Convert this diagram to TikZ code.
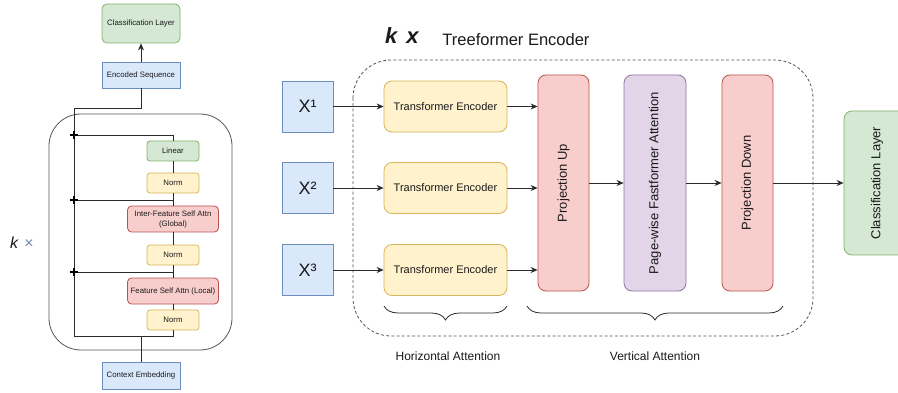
\documentclass[tikz,border=0pt]{standalone}
\usepackage{fontspec}
\setmainfont{Liberation Sans}
\usetikzlibrary{arrows.meta,decorations.pathreplacing}

\definecolor{txt}{HTML}{1A1A1A}
\definecolor{ln}{HTML}{2B2B2B}
\definecolor{bluef}{HTML}{DAE8FC}\definecolor{blued}{HTML}{6C8EBF}
\definecolor{greenf}{HTML}{D5E8D4}\definecolor{greend}{HTML}{82B366}
\definecolor{yellowf}{HTML}{FFF2CC}\definecolor{yellowd}{HTML}{D6B656}
\definecolor{redf}{HTML}{F8CECC}\definecolor{redd}{HTML}{B85450}
\definecolor{purplef}{HTML}{E1D5E7}\definecolor{purpled}{HTML}{9673A6}

\newcommand{\fs}[1]{\fontsize{#1}{#1}\selectfont}

\tikzset{
  base/.style={draw, line width=0.8pt, inner sep=0pt, align=center, text=txt},
  bluebox/.style={base, fill=bluef, draw=blued},
  greenbox/.style={base, fill=greenf, draw=greend},
  yellowbox/.style={base, fill=yellowf, draw=yellowd},
  redbox/.style={base, fill=redf, draw=redd},
  purplebox/.style={base, fill=purplef, draw=purpled},
  small/.style={font=\fs{7.8}, execute at begin node=\setlength{\baselineskip}{10pt}},
  wire/.style={draw=ln, line width=0.8pt},
  arr/.style={wire, -{Stealth[length=7pt,width=6pt]}},
  plusmark/.style={draw=black, line width=1.2pt},
  ttl/.style={text=txt, inner sep=0pt},
  brc/.style={draw=ln, line width=0.8pt, decorate,
    decoration={brace, mirror, amplitude=14pt, aspect=0.5}},
}

\begin{document}
\begin{tikzpicture}[x=1pt, y=-1pt]
\clip (0,0) rectangle (898,393);
\fill[white] (0,0) rectangle (898,393);

% ---------------- left: single encoder block ----------------
\draw[draw=ln!80, line width=0.8pt, rounded corners=32pt] (49,114) rectangle (232,350);

\node[greenbox, small, rounded corners=5pt, minimum width=78pt, minimum height=39pt] (lcls) at (141,23.5) {Classification Layer};
\node[bluebox, small, minimum width=78pt, minimum height=26pt] (enc) at (141,75) {Encoded Sequence};
\node[bluebox, small, minimum width=78pt, minimum height=27pt] (ctx) at (141,375.5) {Context Embedding};

\node[greenbox, small, rounded corners=3pt, minimum width=52pt, minimum height=20pt] (lin) at (173,151) {Linear};
\node[yellowbox, small, rounded corners=3pt, minimum width=52pt, minimum height=20pt] (n1) at (173,183) {Norm};
\node[redbox, small, rounded corners=4pt, minimum width=91pt, minimum height=26pt] (inter) at (173,219) {Inter-Feature Self Attn\\(Global)};
\node[yellowbox, small, rounded corners=3pt, minimum width=52pt, minimum height=20pt] (n2) at (173,255) {Norm};
\node[redbox, small, rounded corners=4pt, minimum width=91pt, minimum height=26pt] (fsa) at (173,291) {Feature Self Attn (Local)};
\node[yellowbox, small, rounded corners=3pt, minimum width=52pt, minimum height=20pt] (n3) at (173,320) {Norm};

\coordinate (top) at (74,108);
\coordinate (bot) at (74,336);
\coordinate (p1) at (74,135);
\coordinate (p2) at (74,200);
\coordinate (p3) at (74,272);
\coordinate (cb) at (141,336);

% main chain
\draw[wire] (n3.south) |- (bot);
\draw[wire] (n3.north) -- (fsa.south);
\draw[wire] (fsa.north) -- (n2.south);
\draw[wire] (n2.north) -- (inter.south);
\draw[wire] (inter.north) -- (n1.south);
\draw[wire] (n1.north) -- (lin.south);
% residual path
\draw[wire] (enc.south) |- (top) -- (bot);
\draw[wire] ([xshift=4pt]p1) -| (lin.north);
\draw[wire] ([xshift=4pt]p2) -- (p2 -| n1.south);
\draw[wire] ([xshift=4pt]p3) -- (p3 -| n2.south);
\draw[wire] (ctx.north) -- (cb);
\draw[arr] (enc.north) -- (lcls.south);
\foreach \p in {p1,p2,p3}{
  \draw[plusmark] ([xshift=-4pt]\p) -- ([xshift=4pt]\p) ([yshift=-4pt]\p) -- ([yshift=4pt]\p);
}

\node[ttl, anchor=base west] (lk) at (10,248) {\fs{16}\itshape k\hspace{6pt}{\color{blued!80!gray}×}};

% ---------------- right: treeformer stack ----------------
\node[ttl, anchor=base west] (tk) at (385,44) {\fs{22}\bfseries\itshape k\hspace{9pt}x};
\node[ttl, anchor=base] (tt) at (516,46) {\fs{16.5}Treeformer Encoder};

\draw[draw=ln!80, line width=0.8pt, dashed, dash pattern=on 3pt off 2.2pt, rounded corners=38pt] (353,60) rectangle (813,336);

\foreach \i/\y/\s in {1/106.5/¹,2/188/²,3/270/³}{
  \node[bluebox, font=\fs{18}, minimum width=51pt, minimum height=51pt] (x\i) at (307.5,\y) {X\s};
  \node[yellowbox, font=\fs{11}, rounded corners=8pt, minimum width=123pt, minimum height=51pt] (te\i) at (445.5,\y) {Transformer Encoder};
}

\node[redbox, rounded corners=8pt, minimum width=51pt, minimum height=216pt] (pu) at (563.5,183) {};
\node[purplebox, rounded corners=8pt, minimum width=62pt, minimum height=216pt] (pfa) at (655,183) {};
\node[redbox, rounded corners=8pt, minimum width=51pt, minimum height=216pt] (pd) at (747.5,183) {};
\node[greenbox, rounded corners=8pt, minimum width=66pt, minimum height=144pt] (rcls) at (877,183) {};

\node[ttl, rotate=90, font=\fs{13}] (pul) at (pu.center) {Projection Up};
\node[ttl, rotate=90, font=\fs{13}] (pfal) at (pfa.center) {Page-wise Fastformer Attention};
\node[ttl, rotate=90, font=\fs{13}] (pdl) at (pd.center) {Projection Down};
\node[ttl, rotate=90, font=\fs{13}] (rclsl) at (rcls.center) {Classification Layer};

\foreach \i in {1,2,3}{
  \draw[arr] (x\i.east) -- (te\i.west);
  \draw[arr] (te\i.east) -- (te\i.east -| pu.west);
}
\draw[arr] (pu.east) -- (pfa.west);
\draw[arr] (pfa.east) -- (pd.west);
\draw[arr] (pd.east) -- (rcls.west);

% braces and their captions
\coordinate (hb1) at (384,306);
\coordinate (hb2) at (507,306);
\coordinate (vb1) at (527,306);
\coordinate (vb2) at (783,306);
\draw[brc] (hb1) -- (hb2);
\draw[brc] (vb1) -- (vb2);

\node[ttl, font=\fs{12}] (ha) at (448,356) {Horizontal Attention};
\node[ttl, font=\fs{12}] (va) at (655,356) {Vertical Attention};
\end{tikzpicture}
\end{document}
